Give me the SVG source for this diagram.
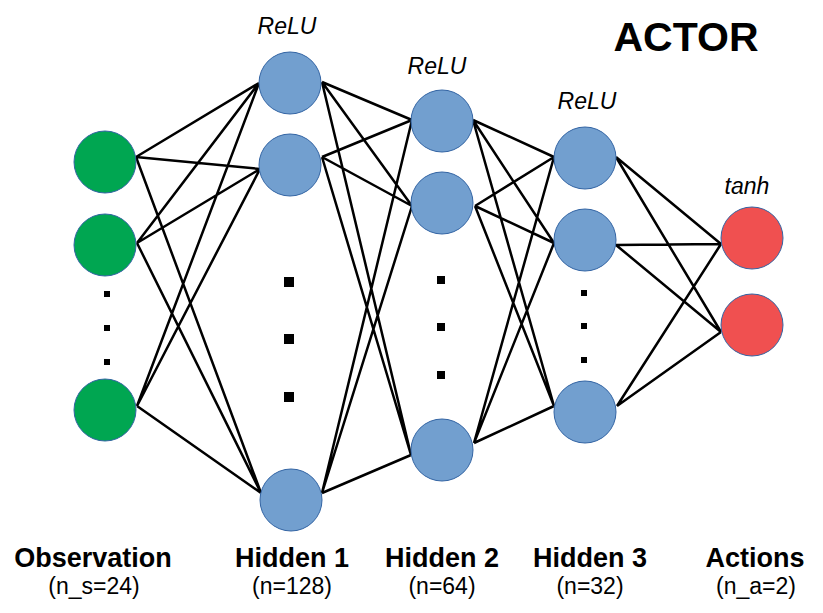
<svg xmlns="http://www.w3.org/2000/svg" width="823" height="613" viewBox="0 0 823 613">
<style>
.e{stroke:#000;stroke-width:2.5;fill:none}
.n{stroke:#3465a4;stroke-width:1}
.obs{fill:#00a651}
.hid{fill:#729fcf}
.act{fill:#f05050}
.dot{fill:#000}
.act-lbl{font-family:"Liberation Sans",Arial,sans-serif;font-style:italic;font-size:23px;fill:#000;text-anchor:middle}
.title{font-family:"Liberation Sans",Arial,sans-serif;font-weight:bold;font-size:27px;fill:#000;text-anchor:middle}
.sub{font-family:"Liberation Sans",Arial,sans-serif;font-size:23px;fill:#000;text-anchor:middle}
</style>
<rect width="823" height="613" fill="#fff"/>
<g id="connectors">
<path class="e" d="M136,157L259,83M136,157L260,169M136,157L261,493M137,243L259,83M137,243L260,169M137,243L261,493M137,406L259,83M137,406L260,169M137,406L261,493"/>
<path class="e" d="M322,82L412,120M322,82L412,206M322,82L411,455M322,157L412,120M322,157L412,206M322,157L411,455M322,493L412,120M322,493L412,206M322,493L411,455"/>
<path class="e" d="M473,120L554,157M473,120L554,243M473,120L554,406M475,206L554,157M475,206L554,243M475,206L554,406M474,443L554,157M474,443L554,243M474,443L554,406"/>
<path class="e" d="M616,157L721,244M616,157L721,332M616,245L721,244M616,245L721,332M617,406L721,244M617,406L721,332"/>
</g>
<g id="obs1"><circle class="n obs" cx="105" cy="162" r="31"/></g>
<g id="obs2"><circle class="n obs" cx="105" cy="245" r="31"/></g>
<g id="obs3"><circle class="n obs" cx="105" cy="410" r="31"/></g>
<g id="obs-dots"><rect class="dot" x="104" y="291" width="6" height="6"/><rect class="dot" x="104" y="325" width="6" height="6"/><rect class="dot" x="104" y="359" width="6" height="6"/></g>
<g id="h1n1"><circle class="n hid" cx="290" cy="83" r="31"/></g>
<g id="h1n2"><circle class="n hid" cx="290" cy="165" r="31"/></g>
<g id="h1n3"><circle class="n hid" cx="291" cy="500" r="31"/></g>
<g id="h1-dots"><rect class="dot" x="284" y="277" width="10" height="10"/><rect class="dot" x="284" y="334" width="10" height="10"/><rect class="dot" x="284" y="392" width="10" height="10"/></g>
<g id="h2n1"><circle class="n hid" cx="442" cy="121" r="31"/></g>
<g id="h2n2"><circle class="n hid" cx="442" cy="203" r="31"/></g>
<g id="h2n3"><circle class="n hid" cx="442" cy="450" r="31"/></g>
<g id="h2-dots"><rect class="dot" x="437" y="276" width="8" height="8"/><rect class="dot" x="437" y="323" width="8" height="8"/><rect class="dot" x="437" y="371" width="8" height="8"/></g>
<g id="h3n1"><circle class="n hid" cx="585" cy="158" r="31"/></g>
<g id="h3n2"><circle class="n hid" cx="585" cy="240" r="31"/></g>
<g id="h3n3"><circle class="n hid" cx="585" cy="412" r="31"/></g>
<g id="h3-dots"><rect class="dot" x="581" y="290" width="6" height="6"/><rect class="dot" x="581" y="323" width="6" height="6"/><rect class="dot" x="581" y="357" width="6" height="6"/></g>
<g id="a1"><circle class="n act" cx="752" cy="238" r="31"/></g>
<g id="a2"><circle class="n act" cx="752" cy="325" r="31"/></g>
<g id="labels">
<text class="act-lbl" x="287" y="34">ReLU</text>
<text class="act-lbl" x="437" y="74">ReLU</text>
<text class="act-lbl" x="587" y="109">ReLU</text>
<text class="act-lbl" x="747" y="194">tanh</text>
<text x="686" y="51" font-family="Liberation Sans,Arial,sans-serif" font-weight="bold" font-size="41" text-anchor="middle">ACTOR</text>
<text class="title" x="93" y="567">Observation</text>
<text class="sub" x="94" y="594">(n_s=24)</text>
<text class="title" x="292" y="567">Hidden 1</text>
<text class="sub" x="292" y="594">(n=128)</text>
<text class="title" x="442" y="567">Hidden 2</text>
<text class="sub" x="442" y="594">(n=64)</text>
<text class="title" x="590" y="567">Hidden 3</text>
<text class="sub" x="590" y="594">(n=32)</text>
<text class="title" x="755" y="567">Actions</text>
<text class="sub" x="756" y="594">(n_a=2)</text>
</g>
</svg>
